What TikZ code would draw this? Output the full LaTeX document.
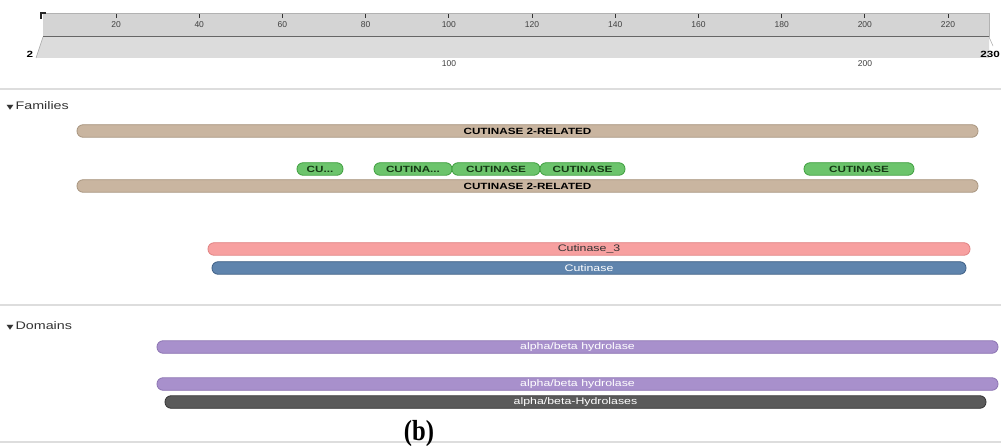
\documentclass[tikz,border=0pt]{standalone}
\usepackage{fontspec}
\setmainfont{Liberation Sans}
\newfontfamily\wide[FakeStretch=1.3]{Liberation Sans}
\newfontfamily\symfont[FakeStretch=1.4]{DejaVu Sans}
\newfontfamily\capfont[FakeStretch=0.85]{Liberation Serif}
\usetikzlibrary{positioning}

\definecolor{rulerfill}{HTML}{D4D4D4}
\definecolor{rulerlow}{HTML}{DCDCDC}
\definecolor{sepgray}{HTML}{DDDDDD}
\definecolor{tanfill}{HTML}{C9B5A0}
\definecolor{tandraw}{HTML}{A8957F}
\definecolor{grnfill}{HTML}{6CC46C}
\definecolor{grndraw}{HTML}{3F9F3F}
\definecolor{grntext}{HTML}{143814}
\definecolor{pnkfill}{HTML}{F7A0A0}
\definecolor{pnkdraw}{HTML}{E08282}
\definecolor{bluefill}{HTML}{5F84AD}
\definecolor{bluedraw}{HTML}{3E5F85}
\definecolor{purfill}{HTML}{A890CC}
\definecolor{purdraw}{HTML}{8C74B2}
\definecolor{dkfill}{HTML}{5A5A5A}
\definecolor{dkdraw}{HTML}{333333}

\begin{document}
\begin{tikzpicture}[x=1pt,y=-1pt,line width=0.8pt]

	\tikzset{track/.style={rounded corners=6pt, minimum height=12.5pt,
			inner sep=0pt, font=\wide\fontsize{9.5}{10}\selectfont}}
	\tikzset{fam/.style={track, fill=tanfill, draw=tandraw,
			font=\wide\bfseries\fontsize{9}{10}\selectfont}}
	\tikzset{pill/.style={track, fill=grnfill, draw=grndraw, text=grntext,
			font=\wide\bfseries\fontsize{9}{10}\selectfont}}
	\tikzset{pfam/.style={track, fill=pnkfill, draw=pnkdraw, text=black!80}}
	\tikzset{cdd/.style={track, fill=bluefill, draw=bluedraw, text=white}}
	\tikzset{dom/.style={track, fill=purfill, draw=purdraw, text=white}}
	\tikzset{sfam/.style={track, fill=dkfill, draw=dkdraw, text=white}}
	\tikzset{tick lbl/.style={font=\fontsize{8.5}{9}\selectfont, text=black!75}}
	\tikzset{end lbl/.style={font=\wide\bfseries\fontsize{9}{10}\selectfont}}
	\tikzset{heading/.style={anchor=west, font=\wide\fontsize{11}{12}\selectfont, text=black!80}}
	\tikzset{sep/.style={draw=sepgray, line width=2pt}}

	\useasboundingbox[fill=white] (0,0) rectangle (1001,446);

	% ruler
	\fill[rulerlow] (43,37) -- (989,37) -- (989,58) -- (36,58) -- cycle;
	\draw[black!35, line width=0.5pt] (43,37) -- (36,58);
	\draw[black!35, line width=0.5pt] (989,37) -- (993,46);
	\fill[rulerfill] (43,13) rectangle (989,37);
	\draw[black!30, line width=0.6pt] (43,13) -- (989,13);
	\draw[black!60, line width=1pt] (43,37) -- (989,37);
	\draw[black!30, line width=0.6pt] (989,13) -- (989,37);
	\draw[black!85, line width=1.2pt] (41,19) -- (41,13) -- (46,13);
	\foreach \r in {20,40,...,220}
	{
		\draw[black!80, line width=0.8pt] (37+\r*4.16-4.16,14) -- (37+\r*4.16-4.16,18);
		\node[tick lbl] (tk\r) at (37+\r*4.16-4.16,24.5) {\r};
	}
	\node[tick lbl] (lo100) at (449,64) {100};
	\node[tick lbl] (lo200) at (865,64) {200};
	\node[end lbl] (first) at (30,54) {2};
	\node[end lbl] (last) at (990,54) {230};

	% separators
	\draw[sep] (0,89) -- (1001,89);
	\draw[sep] (0,305) -- (1001,305);
	\draw[sep] (0,442) -- (1001,442);

	% families
	\node[heading] (famhead) at (3,106) {{\symfont\fontsize{6.5}{7}\selectfont ▼}\,Families};
	\node[fam, minimum width=901pt] (fam1) at (527.5,131) {CUTINASE 2-RELATED};
	\node[pill, minimum width=46pt] (cut1) at (320,169) {CU...};
	\node[pill, minimum width=78pt] (cut2) at (413,169) {CUTINA...};
	\node[pill, minimum width=88pt] (cut3) at (496,169) {CUTINASE};
	\node[pill, minimum width=85pt] (cut4) at (582.5,169) {CUTINASE};
	\node[pill, minimum width=110pt] (cut5) at (859,169) {CUTINASE};
	\node[fam, minimum width=901pt] (fam2) at (527.5,186) {CUTINASE 2-RELATED};
	\node[pfam, minimum width=762pt] (pf) at (589,249) {Cutinase\_3};
	\node[cdd, minimum width=754pt] (cd) at (589,268) {Cutinase};

	% domains
	\node[heading] (domhead) at (3,326) {{\symfont\fontsize{6.5}{7}\selectfont ▼}\,Domains};
	\node[dom, minimum width=841pt] (dom1) at (577.5,347) {alpha/beta hydrolase};
	\node[dom, minimum width=841pt] (dom2) at (577.5,384) {alpha/beta hydrolase};
	\node[sfam, minimum width=821pt] (sf) at (575.5,402) {alpha/beta-Hydrolases};

	\node[font=\capfont\bfseries\fontsize{29}{30}\selectfont] (caption) at (419,434) {(b)};
\end{tikzpicture}
\end{document}
